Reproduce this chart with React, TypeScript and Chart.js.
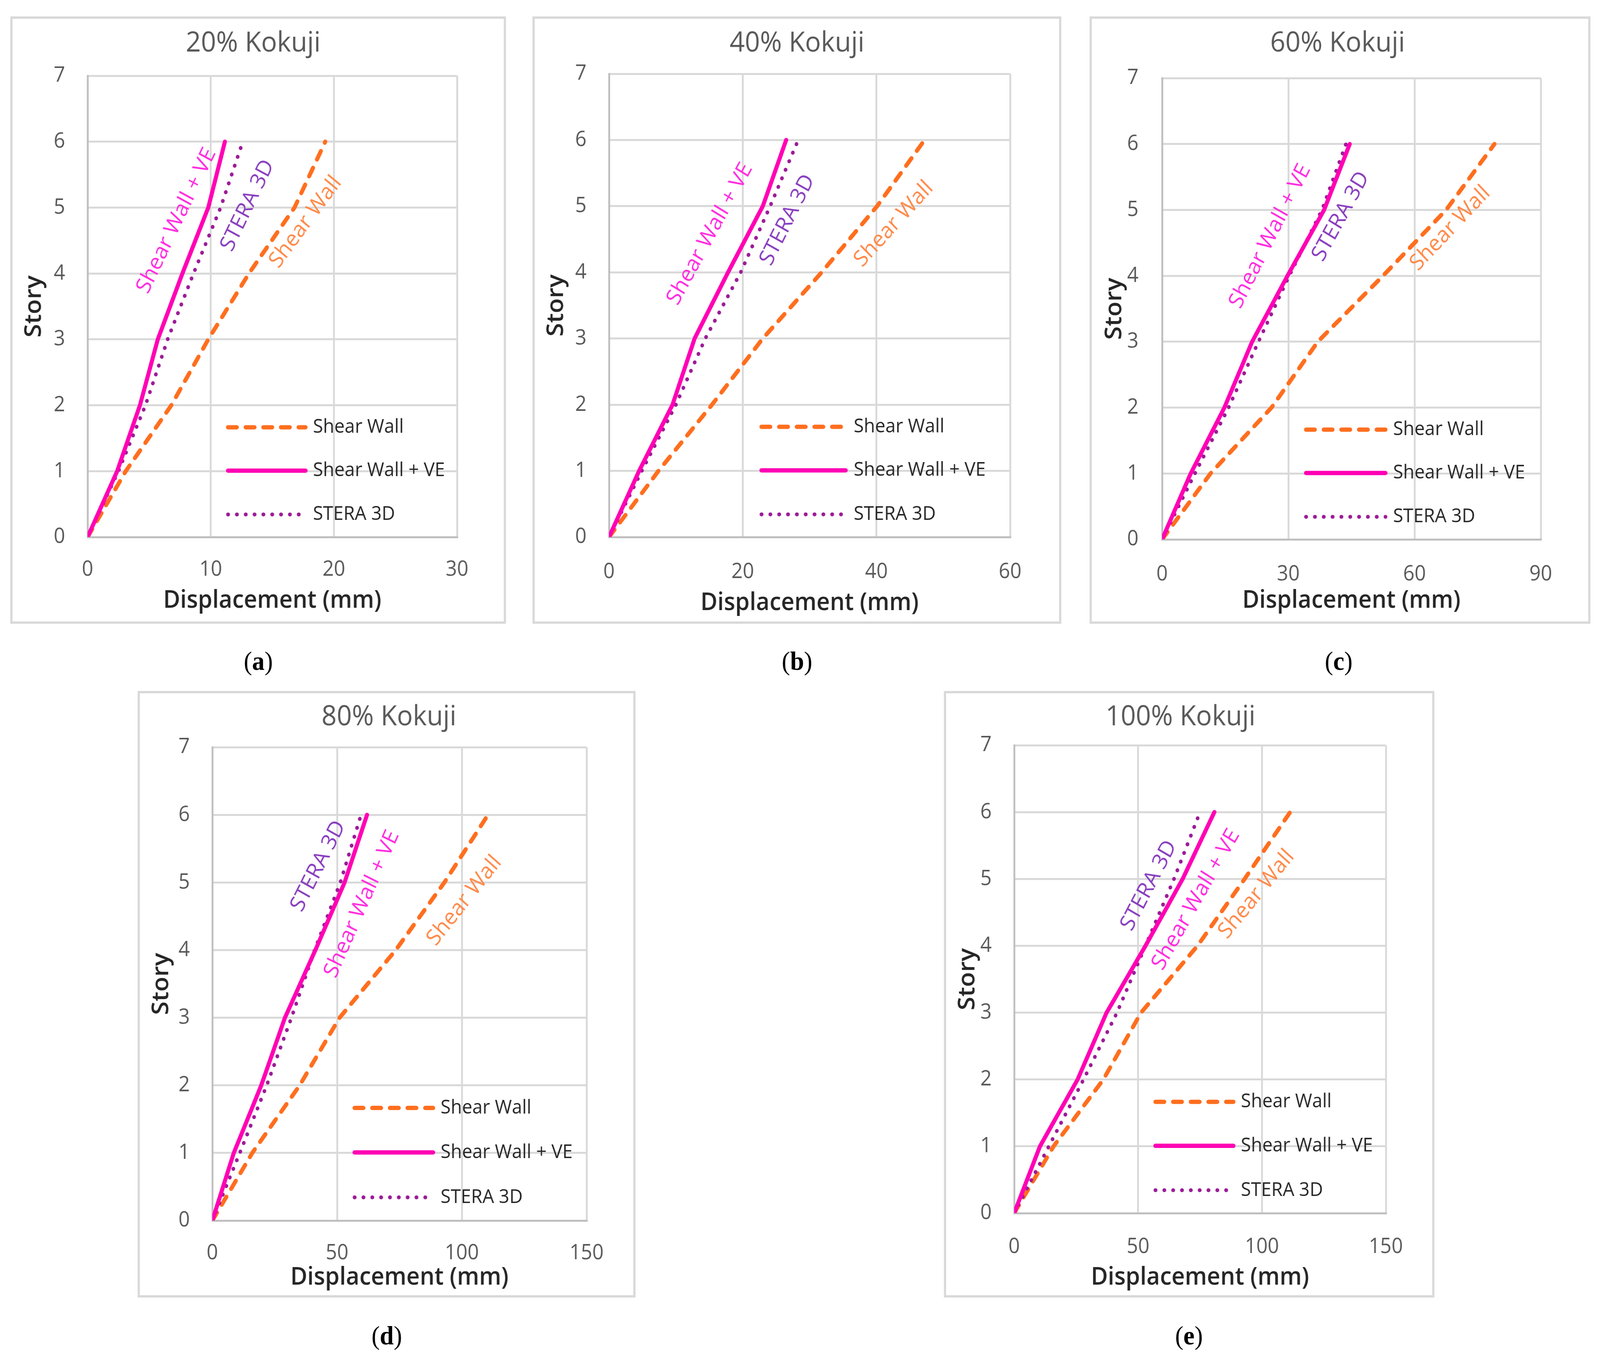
import { useEffect, useRef } from "react";
import { Chart, registerables } from "chart.js";

Chart.register(...registerables);

// story levels (y axis)
const stories = [0, 1, 2, 3, 4, 5, 6];
const seriesNames = ["Shear Wall", "Shear Wall + VE", "STERA 3D"];

// displacement (mm) at each story
const shearWall20 = [0, 3.1, 6.8, 9.8, 13.1, 16.8, 19.3];
const shearWallVE20 = [0, 2.4, 4.25, 5.7, 7.7, 9.8, 11.15];
const stera20 = [0, 2.5, 4.7, 6.5, 8.6, 10.8, 12.6];

const shearWall40 = [0, 7.4, 15.4, 23.0, 31.8, 40.1, 47.2];
const shearWallVE40 = [0, 4.5, 9.5, 12.8, 17.8, 23.0, 26.5];
const stera40 = [0, 4.9, 10.0, 14.4, 19.7, 24.1, 28.3];

const shearWall60 = [0, 11.5, 26.0, 37.0, 52.5, 67.5, 79.0];
const shearWallVE60 = [0, 6.8, 14.8, 21.4, 29.8, 38.5, 44.6];
const stera60 = [0, 7.8, 15.8, 22.9, 30.2, 38.0, 43.7];

const shearWall80 = [0, 16.0, 35.0, 51.0, 73.5, 93.0, 110.5];
const shearWallVE80 = [0, 8.6, 19.6, 29.1, 41.3, 53.0, 62.0];
const stera80 = [0, 11.0, 21.8, 31.7, 41.0, 51.3, 59.6];

const shearWall100 = [0, 15.9, 36.0, 51.2, 74.0, 93.0, 111.4];
const shearWallVE100 = [0, 10.4, 25.6, 37.3, 53.0, 68.0, 80.8];
const stera100 = [0, 14.0, 28.0, 41.5, 53.0, 64.5, 75.0];

const titles = ["20% Kokuji", "40% Kokuji", "60% Kokuji", "80% Kokuji", "100% Kokuji"];
const captions = ["a", "b", "c", "d", "e"];
const xMaxes = [30, 60, 90, 150, 150];
const xSteps = [10, 20, 30, 50, 50];

const FONT = "'Open Sans', 'Noto Sans', sans-serif";
const lineColors = ["#FF6E1E", "#FF00B4", "#9C1C98"];
const noteColors = ["#FF8A4A", "#FF2EE0", "#8A3FBF"];

const PAGE_W = 4348;
const PAGE_H = 3464;

// layout of each panel (pixels) and label anchors (data units, angle in degrees)
const layouts = [
  { box: [28, 42, 1347, 1555], plotLeft: 204, plotTop: 146, rightPad: 127, bottom: 216, titleAt: [654, 63], storyPad: 21, xTitlePad: 15, xTickPad: 51, yTickPad: 61, cap: [702, 1692],
    notes: [[17.7, 4.78, 52], [7.23, 4.8, 63], [13.0, 5.03, 63]] },
  { box: [1447, 42, 1437, 1555], plotLeft: 202, plotTop: 141, rightPad: 133, bottom: 216, titleAt: [713, 63], storyPad: 21, xTitlePad: 9, xTickPad: 57, yTickPad: 61, cap: [2166, 1692],
    notes: [[42.6, 4.73, 46], [15.1, 4.58, 60], [26.7, 4.79, 62]] },
  { box: [2961, 42, 1361, 1555], plotLeft: 191, plotTop: 152, rightPad: 129, bottom: 210, titleAt: [668, 63], storyPad: 24, xTitlePad: 15, xTickPad: 57, yTickPad: 64, cap: [3638, 1692],
    notes: [[68.5, 4.72, 45], [25.7, 4.6, 62], [42.5, 4.9, 60]] },
  { box: [374, 1769, 1353, 1553], plotLeft: 197, plotTop: 138, rightPad: 127, bottom: 191, titleAt: [677, 61], storyPad: 21, xTitlePad: 7, xTickPad: 51, yTickPad: 61, cap: [1051, 3419],
    notes: [[101, 4.73, 50], [60.0, 4.68, 65], [42.5, 5.24, 62]] },
  { box: [2565, 1769, 1333, 1553], plotLeft: 185, plotTop: 133, rightPad: 126, bottom: 210, titleAt: [637, 61], storyPad: 21, xTitlePad: 7, xTickPad: 54, yTickPad: 61, cap: [3231, 3419],
    notes: [[97.8, 4.77, 49], [73.4, 4.69, 59], [54.4, 4.9, 61]] },
];

const panelSeries = [
  [shearWall20, shearWallVE20, stera20],
  [shearWall40, shearWallVE40, stera40],
  [shearWall60, shearWallVE60, stera60],
  [shearWall80, shearWallVE80, stera80],
  [shearWall100, shearWallVE100, stera100],
];

const dashes = [[24, 24], [], [0.5, 23.5]];
const widths = [11, 11, 10];

const overlayPlugin = {
  id: "overlay",
  afterDraw(chart: any, _args: any, opts: any) {
    const ctx = chart.ctx;
    ctx.save();
    ctx.font = `72px ${FONT}`;
    ctx.fillStyle = "#595959";
    ctx.textAlign = "center";
    ctx.textBaseline = "middle";
    ctx.fillText(opts.title, opts.titleAt[0], opts.titleAt[1]);
    ctx.restore();
  },
  afterDatasetsDraw(chart: any, _args: any, opts: any) {
    const ctx = chart.ctx;
    const { left, top, width, height } = chart.chartArea;
    const xs = chart.scales.x;
    const ys = chart.scales.y;
    ctx.save();
    // labels along the curves
    (opts.notes || []).forEach((n: number[], i: number) => {
      ctx.save();
      ctx.translate(xs.getPixelForValue(n[0]), ys.getPixelForValue(n[1]));
      ctx.rotate((-n[2] * Math.PI) / 180);
      ctx.font = `57px ${FONT}`;
      ctx.fillStyle = noteColors[i];
      ctx.textAlign = "center";
      ctx.textBaseline = "middle";
      ctx.fillText(seriesNames[i], 0, 0);
      ctx.restore();
    });
    // legend inside the plot
    const rows = [0.762, 0.856, 0.951];
    chart.data.datasets.forEach((ds: any, i: number) => {
      const y = top + rows[i] * height;
      ctx.beginPath();
      ctx.strokeStyle = ds.borderColor;
      ctx.lineWidth = ds.borderWidth;
      ctx.lineCap = "round";
      ctx.setLineDash(ds.borderDash || []);
      ctx.moveTo(left + 0.38 * width, y);
      ctx.lineTo(left + 0.59 * width, y);
      ctx.stroke();
      ctx.setLineDash([]);
      ctx.font = `50px ${FONT}`;
      ctx.fillStyle = "#262626";
      ctx.textAlign = "left";
      ctx.textBaseline = "middle";
      ctx.fillText(ds.label, left + 0.61 * width, y);
    });
    ctx.restore();
  },
};

const Panel = ({ index }: { index: number }) => {
  const chartRef = useRef<HTMLCanvasElement>(null);
  const lay = layouts[index];
  const cw = lay.box[2] - 12;
  const ch = lay.box[3] - 12;

  useEffect(() => {
    if (!chartRef.current) return;
    const datasets = panelSeries[index].map((vals, i) => ({
      label: seriesNames[i],
      data: vals.map((v, k) => ({ x: v, y: stories[k] })),
      borderColor: lineColors[i],
      backgroundColor: lineColors[i],
      borderWidth: widths[i],
      borderDash: dashes[i],
      borderCapStyle: "round" as const,
      borderJoinStyle: "round" as const,
      pointRadius: 0,
      tension: 0,
      order: i === 1 ? 0 : i === 2 ? 1 : 2,
    }));

    const chartInstance = new Chart(chartRef.current, {
      type: "line",
      data: { datasets },
      plugins: [overlayPlugin],
      options: {
        animation: false,
        responsive: false,
        devicePixelRatio: 1,
        layout: { padding: { top: lay.plotTop, right: lay.rightPad, bottom: 0, left: 0 } },
        scales: {
          x: {
            type: "linear",
            min: 0,
            max: xMaxes[index],
            afterFit: (s: any) => { s.height = lay.bottom; },
            ticks: { stepSize: xSteps[index], color: "#595959", padding: lay.xTickPad, font: { family: FONT, size: 54 } },
            grid: { color: "#d9d9d9", lineWidth: 5, drawTicks: false },
            border: { color: "#bfbfbf", width: 5 },
            title: { display: true, text: "Displacement (mm)", color: "#262626", padding: { top: 0, bottom: lay.xTitlePad }, font: { family: FONT, size: 63, weight: 600 } },
          },
          y: {
            type: "linear",
            min: 0,
            max: 7,
            afterFit: (s: any) => { s.width = lay.plotLeft; },
            ticks: { stepSize: 1, color: "#595959", padding: lay.yTickPad, font: { family: FONT, size: 54 } },
            grid: { color: "#d9d9d9", lineWidth: 5, drawTicks: false },
            border: { color: "#bfbfbf", width: 5 },
            title: { display: true, text: "Story", color: "#262626", padding: { top: lay.storyPad, bottom: 0 }, font: { family: FONT, size: 63, weight: 600 } },
          },
        },
        plugins: {
          legend: { display: false },
          tooltip: { enabled: false },
          title: { display: false },
          overlay: { notes: lay.notes, title: titles[index], titleAt: lay.titleAt },
        } as any,
      },
    });

    return () => {
      chartInstance.destroy();
    };
  }, [index]);

  return (
    <>
      <div
        style={{
          position: "absolute",
          left: lay.box[0],
          top: lay.box[1],
          width: lay.box[2],
          height: lay.box[3],
          boxSizing: "border-box",
          border: "6px solid #d9d9d9",
          background: "#fff",
        }}
      >
        <canvas ref={chartRef} width={cw} height={ch} style={{ display: "block" }}></canvas>
      </div>
      <div
        style={{
          position: "absolute",
          left: lay.cap[0] - 150,
          top: lay.cap[1] - 40,
          width: 300,
          textAlign: "center",
          fontFamily: "'Liberation Serif', 'DejaVu Serif', serif",
          fontSize: 68,
          lineHeight: "80px",
          color: "#000",
        }}
      >
        (<b>{captions[index]}</b>)
      </div>
    </>
  );
};

const App = () => {
  useEffect(() => {
    document.body.style.margin = "0";
  }, []);
  // fit the 4348x3464 figure to the viewport that is actually photographed
  const hasWin = typeof window !== "undefined";
  const kx = hasWin && window.innerWidth > 0 ? Math.min(1, window.innerWidth / PAGE_W) : 1;
  const ky = hasWin && window.innerHeight > 0 ? Math.min(1, window.innerHeight / PAGE_H) : 1;
  return (
    <div style={{ position: "relative", width: PAGE_W * kx, height: PAGE_H * ky, overflow: "hidden", background: "#fff" }}>
      <div
        style={{
          position: "absolute",
          left: 0,
          top: 0,
          width: PAGE_W,
          height: PAGE_H,
          transform: `scale(${kx}, ${ky})`,
          transformOrigin: "0 0",
          background: "#fff",
        }}
      >
        {titles.map((_, i) => (
          <Panel key={i} index={i} />
        ))}
      </div>
    </div>
  );
};

export default App;
